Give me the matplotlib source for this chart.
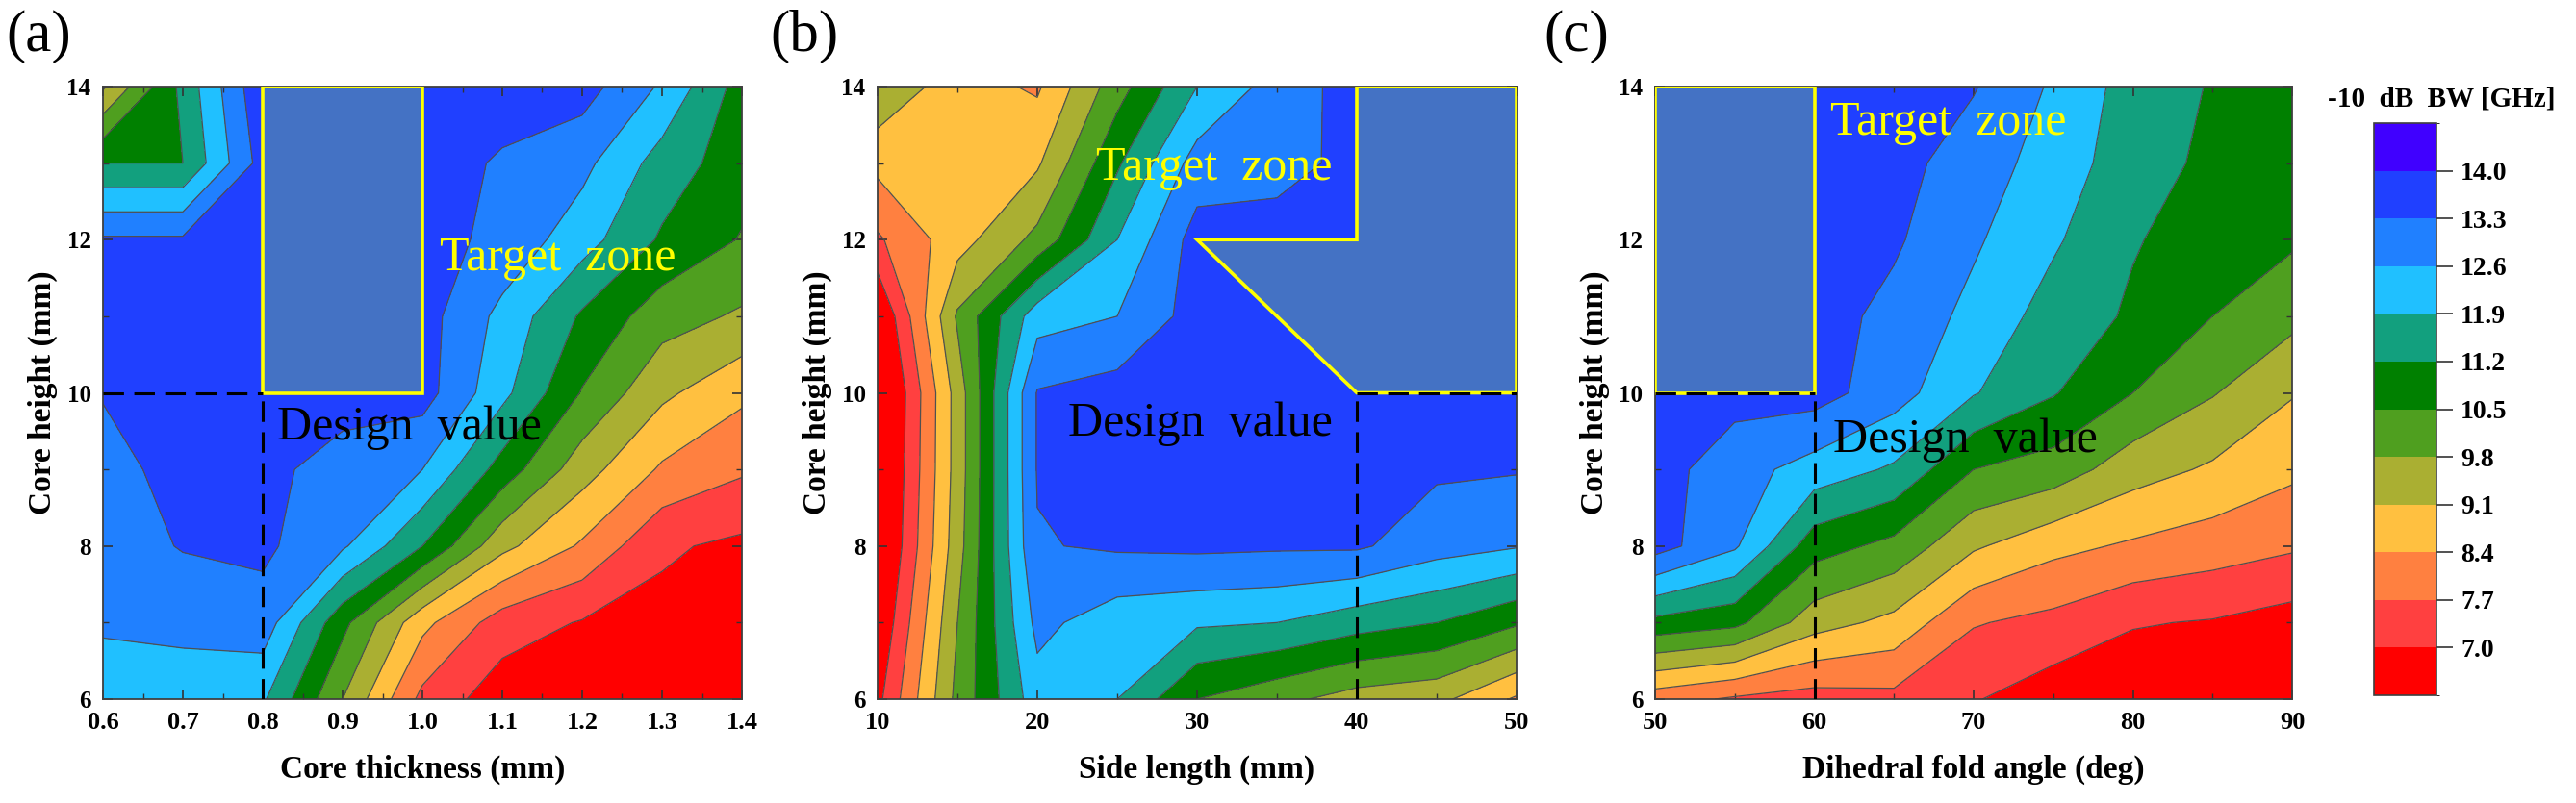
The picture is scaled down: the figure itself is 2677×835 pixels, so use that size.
import numpy as np
import matplotlib
matplotlib.use("Agg")
import matplotlib.pyplot as plt
from matplotlib.colors import ListedColormap, BoundaryNorm
from matplotlib.patches import Polygon
from matplotlib.cm import ScalarMappable

plt.rcParams['font.family'] = ['Liberation Serif', 'DejaVu Serif']

# -10 dB bandwidth [GHz], rows = core height 6..14 mm
core_height = [6, 7, 8, 9, 10, 11, 12, 13, 14]

# (a) core thickness sweep
core_thick = [0.6, 0.7, 0.8, 0.9, 1.0, 1.1, 1.2, 1.3, 1.4]
bw_a = [
    [12.2, 12.3, 12.0, 9.8, 7.5, 6.6, 6.5, 6.4, 6.4],
    [12.7, 12.75, 13.0, 10.7, 8.6, 7.35, 6.95, 6.8, 6.6],
    [12.9, 13.35, 13.45, 12.7, 11.2, 9.3, 8.3, 7.1, 6.85],
    [13.0, 13.6, 13.5, 13.0, 12.6, 10.9, 9.4, 8.3, 7.8],
    [13.35, 13.6, 13.6, 13.6, 13.6, 12.1, 10.45, 9.25, 8.55],
    [13.5, 13.6, 13.6, 13.7, 13.6, 12.4, 11.1, 10.1, 9.7],
    [13.4, 13.4, 13.6, 13.7, 13.6, 13.1, 12.2, 11.1, 10.45],
    [11.2, 11.2, 13.6, 13.7, 13.7, 13.2, 12.8, 11.6, 10.8],
    [9.0, 11.4, 13.9, 13.8, 13.8, 13.7, 13.6, 12.5, 10.9],
]

# (b) side length sweep
side_len = [10, 15, 20, 25, 30, 35, 40, 45, 50]
bw_b = [
    [6.8, 10.0, 12.3, 11.9, 10.5, 10.0, 9.5, 9.3, 8.3],
    [6.3, 9.8, 12.8, 12.2, 12.0, 11.9, 11.5, 11.2, 10.6],
    [5.9, 9.5, 13.25, 13.4, 13.45, 13.4, 13.4, 12.9, 12.65],
    [5.8, 9.4, 13.35, 13.6, 13.6, 13.6, 13.6, 13.4, 13.35],
    [5.7, 9.4, 13.35, 13.6, 13.6, 13.6, 13.6, 13.6, 13.6],
    [6.2, 9.9, 12.3, 12.6, 13.6, 13.6, 13.6, 13.6, 13.6],
    [7.6, 8.8, 10.0, 11.9, 13.6, 13.6, 13.6, 13.6, 13.6],
    [8.6, 8.9, 9.0, 11.1, 12.9, 13.05, 13.5, 13.6, 13.6],
    [9.7, 8.7, 8.3, 10.2, 11.9, 12.9, 13.6, 13.6, 13.6],
]

# (c) dihedral fold angle sweep
fold_angle = [50, 55, 60, 65, 70, 75, 80, 85, 90]
bw_c = [
    [8.0, 7.6, 7.4, 7.5, 7.05, 6.6, 6.5, 6.5, 6.4],
    [11.0, 10.7, 9.4, 8.9, 7.75, 7.5, 7.05, 6.95, 6.7],
    [13.6, 12.7, 10.8, 10.3, 9.2, 8.6, 8.3, 8.05, 7.8],
    [13.6, 12.9, 12.3, 11.8, 10.5, 10.2, 9.4, 9.0, 8.55],
    [13.6, 13.55, 13.6, 12.9, 11.95, 11.25, 10.5, 9.85, 9.15],
    [13.6, 13.6, 13.6, 13.1, 12.4, 11.6, 11.1, 10.5, 10.0],
    [13.6, 13.6, 13.6, 13.4, 12.7, 12.0, 11.25, 10.9, 10.6],
    [13.6, 13.6, 13.6, 13.55, 12.95, 12.3, 11.5, 11.05, 10.75],
    [13.6, 13.6, 13.6, 13.6, 13.35, 12.5, 11.6, 11.15, 10.9],
]

# target zones and design points
target_a = [(0.8, 10), (1.0, 10), (1.0, 14), (0.8, 14)]
target_b = [(40, 14), (50, 14), (50, 10), (40, 10), (30, 12), (40, 12)]
target_c = [(50, 10), (60, 10), (60, 14), (50, 14)]
design_a = (0.8, 10)
design_b = (40, 10)
design_c = (60, 10)

cbar_ticks = [7.0, 7.7, 8.4, 9.1, 9.8, 10.5, 11.2, 11.9, 12.6, 13.3, 14.0]
levels = [6.3] + cbar_ticks + [14.7]
band_colors = ['#FF0000', '#FF4040', '#FF8040', '#FFC040', '#AAAF32', '#4F9F1F',
               '#008000', '#12A07E', '#20C0FF', '#2080FF', '#2040FF', '#4000FF']
cmap = ListedColormap(band_colors)
cmap.set_under(band_colors[0])
cmap.set_over(band_colors[-1])
norm = BoundaryNorm(levels, cmap.N)

fig = plt.figure(figsize=(26.77, 8.35), dpi=100)
W, H = 2677.0, 835.0


def panel(left, width, xs, zs, xlabel, xmaj, xmin, xfmt, target, design, hline_to_left,
          tz_xy, dv_xy, tag, tag_x):
    ax = fig.add_axes([left / W, (H - 727) / H, width / W, 637 / H])
    X, Y = np.meshgrid(xs, core_height)
    Z = np.array(zs)
    ax.contourf(X, Y, Z, levels=levels, cmap=cmap, norm=norm, extend='both')
    ax.contour(X, Y, Z, levels=cbar_ticks, colors='#505050', linewidths=0.9)
    ax.add_patch(Polygon(target, closed=True, facecolor='#4472C4', edgecolor='#FFFF00',
                         linewidth=2.6, zorder=3))
    dx, dy = design
    ls = (0, (7, 3.5))
    if hline_to_left:
        ax.plot([xs[0], dx], [dy, dy], color='black', lw=2.2, ls=ls, zorder=4)
    else:
        ax.plot([dx, xs[-1]], [dy, dy], color='black', lw=2.2, ls=ls, zorder=4)
    ax.plot([dx, dx], [core_height[0], dy], color='black', lw=2.2, ls=ls, zorder=4)
    ax.text(tz_xy[0], tz_xy[1], 'Target  zone', color='#FFFF00', fontsize=36,
            ha='left', va='center', zorder=5)
    ax.text(dv_xy[0], dv_xy[1], 'Design  value', color='black', fontsize=36,
            ha='left', va='center', zorder=5)
    ax.set_xlim(xs[0], xs[-1])
    ax.set_ylim(core_height[0], core_height[-1])
    ax.set_xticks(xmaj)
    ax.set_xticks(xmin, minor=True)
    ax.set_xticklabels([xfmt % v for v in xmaj])
    ax.set_yticks([6, 8, 10, 12, 14])
    ax.set_yticks([7, 9, 11, 13], minor=True)
    ax.tick_params(which='both', direction='in', top=True, right=True, color='#333333')
    ax.tick_params(which='major', length=7, width=1.2)
    ax.tick_params(which='minor', length=4, width=1.0)
    ax.tick_params(axis='x', labelsize=19, pad=9)
    ax.tick_params(axis='y', labelsize=18, pad=9)
    for lab in ax.get_xticklabels() + ax.get_yticklabels():
        lab.set_fontweight('bold')
    for sp in ax.spines.values():
        sp.set_color('#404040')
        sp.set_linewidth(1.3)
    ax.text(0.5, -0.115, xlabel, transform=ax.transAxes, ha='center', va='center',
            fontsize=24, fontweight='bold')
    ax.text(-0.095, 0.5, 'Core height (mm)', transform=ax.transAxes, rotation=90,
            ha='center', va='center', fontsize=24, fontweight='bold')
    fig.text(tag_x / W, 1 - 38 / H, tag, fontsize=44, ha='center', va='center')
    return ax


panel(107, 664, core_thick, bw_a, 'Core thickness (mm)',
      [0.6, 0.7, 0.8, 0.9, 1.0, 1.1, 1.2, 1.3, 1.4],
      [0.65, 0.75, 0.85, 0.95, 1.05, 1.15, 1.25, 1.35], '%.1f',
      target_a, design_a, True, (1.022, 11.76), (0.818, 9.54), '(a)', 40)

panel(912, 664, side_len, bw_b, 'Side length (mm)',
      [10, 20, 30, 40, 50], [15, 25, 35, 45], '%d',
      target_b, design_b, False, (23.7, 12.93), (21.9, 9.6), '(b)', 836)

panel(1720, 662, fold_angle, bw_c, 'Dihedral fold angle (deg)',
      [50, 60, 70, 80, 90], [55, 65, 75, 85], '%d',
      target_c, design_c, True, (61.0, 13.52), (61.2, 9.38), '(c)', 1638)

# colorbar
cax = fig.add_axes([2467 / W, (H - 723) / H, 65 / W, 595 / H])
sm = ScalarMappable(norm=norm, cmap=cmap)
cb = fig.colorbar(sm, cax=cax, ticks=cbar_ticks)
cb.ax.set_yticklabels(['%.1f' % v for v in cbar_ticks])
cb.ax.tick_params(labelsize=20, length=12, width=1.2, color='#333333', pad=6)
for lab in cb.ax.get_yticklabels():
    lab.set_fontweight('bold')
cb.outline.set_edgecolor('#404040')
cb.outline.set_linewidth(1.2)
fig.text(2537 / W, 1 - 103 / H, '-10  dB  BW [GHz]', fontsize=21, fontweight='bold',
         ha='center', va='center')

fig.savefig('out.png', dpi=100)
